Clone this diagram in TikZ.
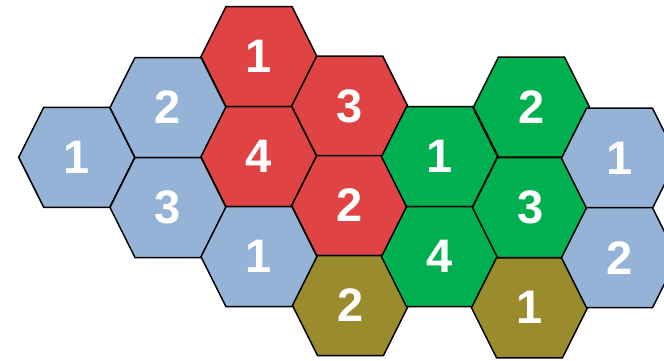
\documentclass[tikz,border=0pt]{standalone}
\usepackage{fontspec}
\setmainfont{Liberation Sans}
\definecolor{hblue}{HTML}{95B3D7}
\definecolor{hred}{HTML}{E04343}
\definecolor{hgreen}{HTML}{00B050}
\definecolor{holive}{HTML}{9A8B2C}
\tikzset{
  hexcell/.style={draw=black, line width=1.5pt, line join=miter},
  hexlabel/.style={text=white, font=\fontsize{47}{47}\selectfont\bfseries, inner sep=0pt},
}
\newcommand{\hexat}[5]{% name, x, y, color, label
  \filldraw[hexcell, fill=#4] (#2-58,#3) -- (#2-33,#3-50) -- (#2+33,#3-50) -- (#2+58,#3) -- (#2+33,#3+50) -- (#2-33,#3+50) -- cycle;
  \node[hexlabel] (#1) at (#2,#3) {#5};
}
\begin{document}
\begin{tikzpicture}[x=1pt,y=-1pt]
\useasboundingbox (0,0) rectangle (664,360);
\hexat{b1}{76.7}{157.3}{hblue}{1}
\hexat{b2}{168}{107.5}{hblue}{2}
\hexat{b3}{168}{207.5}{hblue}{3}
\hexat{r1}{259}{56.5}{hred}{1}
\hexat{r4}{259}{156.7}{hred}{4}
\hexat{b4}{259}{256.7}{hblue}{1}
\hexat{r3}{349.7}{106}{hred}{3}
\hexat{r2}{349.7}{205.5}{hred}{2}
\hexat{o2}{350.5}{305.5}{holive}{2}
\hexat{g1}{439.5}{156.7}{hgreen}{1}
\hexat{g4}{439.5}{256.7}{hgreen}{4}
\hexat{g2}{531.5}{107}{hgreen}{2}
\hexat{g3}{530.5}{207.5}{hgreen}{3}
\hexat{o1}{529.5}{307.8}{holive}{1}
\hexat{b5}{619.5}{158.2}{hblue}{1}
\hexat{b6}{619.5}{257.7}{hblue}{2}
\end{tikzpicture}
\end{document}
